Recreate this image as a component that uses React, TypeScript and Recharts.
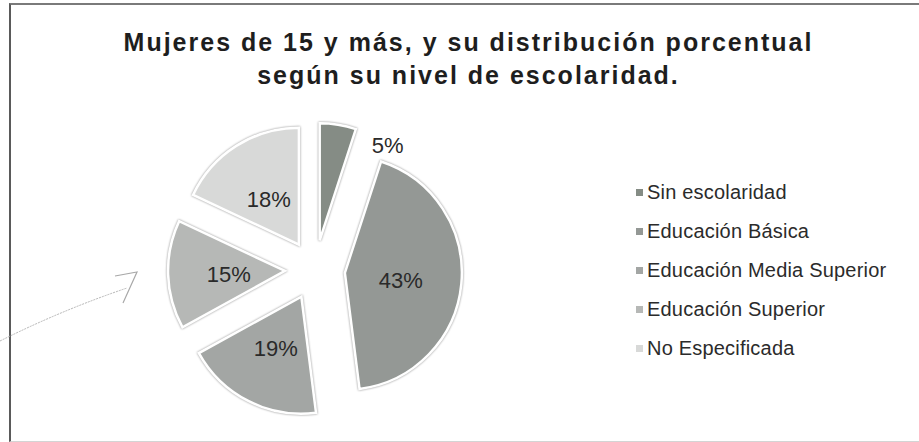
import React from 'react';
import { PieChart, Pie, Legend, Sector } from 'recharts';

const categories = [
  'Sin escolaridad',
  'Educación Básica',
  'Educación Media Superior',
  'Educación Superior',
  'No Especificada',
];
const shares = [5, 43, 19, 15, 18];
const colors = ['#858c85', '#949895', '#a3a6a4', '#b6b8b6', '#d8d9d8'];

const data = categories.map((name, i) => ({ name, value: shares[i] }));

const FONT = '"Liberation Sans", Arial, Helvetica, sans-serif';
const RAD = Math.PI / 180;
const EXPLODE = 30;

// slices are pulled out from the centre, so the sector is drawn here next to its label
const renderSlice = (props: any) => {
  const { cx, cy, innerRadius, outerRadius, startAngle, endAngle, midAngle, index, percent } = props;
  const sx = cx + EXPLODE * Math.cos(-midAngle * RAD);
  const sy = cy + EXPLODE * Math.sin(-midAngle * RAD);
  let lx: number;
  let ly: number;
  let anchor = 'middle';
  if (percent < 0.1) {
    // thin slice: label goes outside, next to its trailing corner
    lx = sx + outerRadius * Math.cos(-endAngle * RAD) + 16;
    ly = sy + outerRadius * Math.sin(-endAngle * RAD) + 16;
    anchor = 'start';
  } else {
    const r = outerRadius * 0.48;
    lx = sx + r * Math.cos(-midAngle * RAD);
    ly = sy + r * Math.sin(-midAngle * RAD) + 2;
  }
  return (
    <g>
      <Sector
        cx={sx}
        cy={sy}
        innerRadius={innerRadius}
        outerRadius={outerRadius}
        startAngle={startAngle}
        endAngle={endAngle}
        fill={colors[index]}
        stroke="#fff"
        strokeWidth={2.5}
        style={{ filter: 'drop-shadow(0 0 1.2px rgba(0,0,0,0.45))' }}
      />
      <text
        x={lx}
        y={ly}
        textAnchor={anchor}
        dominantBaseline="central"
        fontSize={22}
        fill="#2a2a2a"
        fontFamily={FONT}
      >
        {`${shares[index]}%`}
      </text>
    </g>
  );
};

const LegendList = () => (
  <ul style={{ listStyle: 'none', margin: 0, padding: 0, fontFamily: FONT }}>
    {categories.map((c, i) => (
      <li
        key={c}
        style={{
          display: 'flex',
          alignItems: 'center',
          height: 39,
          fontSize: 20,
          color: '#2b2b2b',
          letterSpacing: 0.2,
          whiteSpace: 'nowrap',
        }}
      >
        <span style={{ width: 7, height: 7, background: colors[i], marginRight: 4, display: 'inline-block' }} />
        {c}
      </li>
    ))}
  </ul>
);

export default function App() {
  return (
    <div style={{ position: 'absolute', left: 0, top: 0, width: 919, height: 442, background: '#fff', overflow: 'hidden' }}>
      <div
        style={{
          position: 'absolute',
          left: 9,
          top: 3,
          width: 920,
          height: 436,
          borderLeft: '2px solid #5a5a5a',
          borderTop: '2px solid #7a7a7a',
          borderBottom: '1px solid #d4d4d4',
        }}
      />
      <div
        style={{
          position: 'absolute',
          left: 14,
          top: 26,
          width: 909,
          textAlign: 'center',
          fontFamily: FONT,
          fontWeight: 'bold',
          fontSize: 25,
          letterSpacing: 2,
          lineHeight: '33px',
          color: '#1e1e1e',
        }}
      >
        Mujeres de 15 y más, y su distribución porcentual
        <br />
        según su nivel de escolaridad.
      </div>
      <div style={{ position: 'absolute', left: 0, top: 0 }}>
        <PieChart width={919} height={442} margin={{ top: 0, right: 0, bottom: 0, left: 0 }}>
          <Pie
            data={data}
            dataKey="value"
            nameKey="name"
            cx={315}
            cy={270}
            outerRadius={117}
            startAngle={90}
            endAngle={-270}
            fill="none"
            stroke="none"
            label={renderSlice}
            labelLine={false}
            isAnimationActive={false}
          />
          <Legend content={() => <LegendList />} wrapperStyle={{ left: 636, top: 173, width: 280 }} />
        </PieChart>
      </div>
      <svg width={919} height={442} style={{ position: 'absolute', left: 0, top: 0, pointerEvents: 'none' }}>
        <path d="M0,341 Q62,310 127,288" fill="none" stroke="#b4b4b4" strokeWidth={1} strokeDasharray="2 1" />
        <path d="M115,276 L137,272 L123,303" fill="none" stroke="#a8a8a8" strokeWidth={1.2} />
      </svg>
    </div>
  );
}
